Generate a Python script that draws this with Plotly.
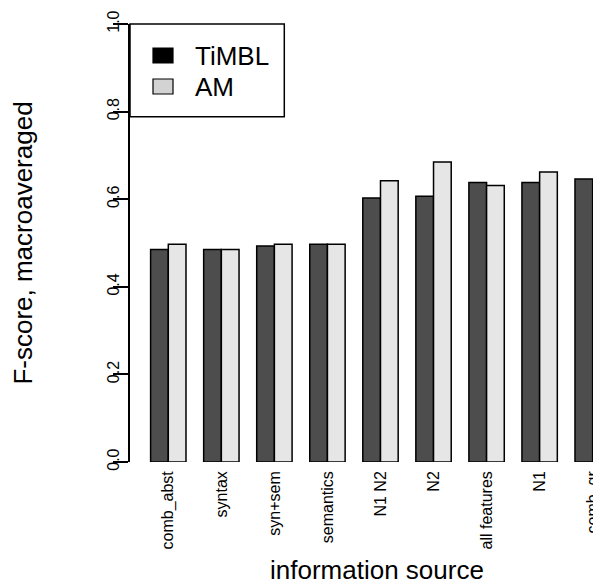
import plotly.graph_objects as go

categories = ["comb_abst", "syntax", "syn+sem", "semantics", "N1 N2", "N2",
              "all features", "N1", "comb_gr"]
timbl = [0.485, 0.485, 0.493, 0.497, 0.603, 0.607, 0.638, 0.638, 0.646]
am = [0.497, 0.485, 0.497, 0.497, 0.642, 0.685, 0.631, 0.662, None]
series_names = ["TiMBL", "AM"]
ytick_vals = [0.0, 0.2, 0.4, 0.6, 0.8, 1.0]
ytick_text = ["0.0", "0.2", "0.4", "0.6", "0.8", "1.0"]

dark = "#4d4d4d"
light = "#e6e6e6"
FONT = "Liberation Sans, Arial, sans-serif"

fig = go.Figure()
fig.add_trace(go.Bar(x=categories, y=timbl, name=series_names[0],
                     marker=dict(color=dark, line=dict(color="black", width=1.5)),
                     showlegend=False))
fig.add_trace(go.Bar(x=categories, y=am, name=series_names[1],
                     marker=dict(color=light, line=dict(color="black", width=1.5)),
                     showlegend=False))

# page has an 8px body margin; figure is sized to fit the 601x585 window
OFF = 8
W, H = 601 - OFF, 585 - OFF
ml, mr, mt, mb = 130 - OFF, 0, 24 - OFF, 123
pw, ph = W - ml - mr, H - mt - mb

def px(x):  # page pixel x -> paper
    return (x - OFF - ml) / pw

def py(y):  # page pixel y -> paper
    return (H - mb - (y - OFF)) / ph

fig.update_layout(
    width=W, height=H,
    margin=dict(l=ml, r=mr, t=mt, b=mb, pad=0),
    plot_bgcolor="white", paper_bgcolor="white",
    barmode="group", bargap=0.333, bargroupgap=0,
    font=dict(family=FONT, color="black"),
    xaxis=dict(
        type="category", range=[-0.722, 8.157],
        showline=False, showgrid=False, zeroline=False, ticks="",
        tickangle=-90, tickfont=dict(size=16, family=FONT),
        ticklabelstandoff=5,
    ),
    yaxis=dict(
        range=[0, 1], showline=True, linecolor="black", linewidth=1.5,
        showgrid=False, zeroline=False,
        ticks="outside", ticklen=15, tickwidth=1.5, tickcolor="black",
        tickvals=ytick_vals, ticktext=ytick_text,
        tickangle=-90, tickfont=dict(size=16, family=FONT),
        ticklabelstandoff=-12,
        title=dict(text="F-score, macroaveraged", font=dict(size=26, family=FONT),
                   standoff=66),
    ),
)

# x axis title
fig.add_annotation(text="information source", xref="paper", yref="paper",
                   x=px(377), y=py(570), showarrow=False,
                   xanchor="center", yanchor="middle",
                   font=dict(size=26, family=FONT))

# legend box
fig.add_shape(type="rect", xref="paper", yref="paper",
              x0=0, x1=px(284.3), y0=py(116.7), y1=1,
              line=dict(color="black", width=1.5), fillcolor="white")
for i, (nm, col) in enumerate(zip(series_names, ["black", "#d3d3d3"])):
    top = 48 + i * 31
    fig.add_shape(type="rect", xref="paper", yref="paper",
                  x0=px(153), x1=px(173), y0=py(top + 15), y1=py(top),
                  line=dict(color="black", width=1.2), fillcolor=col)
    fig.add_annotation(text=nm, xref="paper", yref="paper",
                       x=px(193), y=py(top + 8), showarrow=False,
                       xanchor="left", yanchor="middle",
                       font=dict(size=26, family=FONT))

fig.write_html("out.html")
